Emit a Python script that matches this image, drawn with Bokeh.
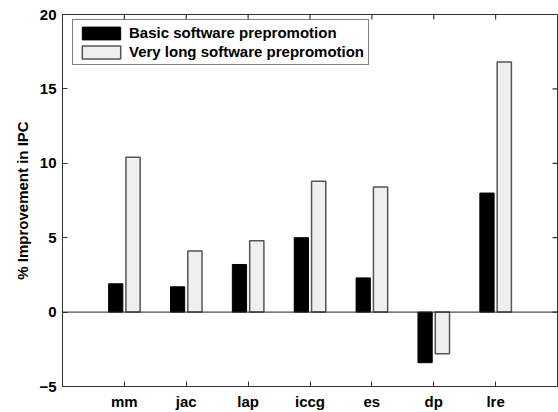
import numpy as np
from bokeh.plotting import figure
from bokeh.models import (Range1d, FixedTicker, Span, Legend, LegendItem, ColumnDataSource)
from bokeh.embed import file_html
from bokeh.resources import INLINE

categories = ["mm", "jac", "lap", "iccg", "es", "dp", "lre"]
basic = [1.9, 1.7, 3.2, 5.0, 2.3, -3.4, 8.0]
very_long = [10.4, 4.1, 4.8, 8.8, 8.4, -2.8, 16.8]
y_ticks = [-5, 0, 5, 10, 15, 20]

pos = np.arange(1, len(categories) + 1)
offset = 0.14
bw = 0.23
x_end = len(categories) + 1
y_start, y_end = y_ticks[0], y_ticks[-1]

FONT = "Liberation Sans"
AX = "#333333"

p = figure(width=558, height=412, output_backend="svg", toolbar_location=None,
           x_range=Range1d(0, x_end), y_range=Range1d(y_start, y_end),
           min_border_left=62, min_border_top=14, min_border_right=1, min_border_bottom=24)
p.background_fill_color = "white"
p.border_fill_color = "white"
p.outline_line_color = AX
p.outline_line_width = 1
p.xgrid.visible = False
p.ygrid.visible = False

src = ColumnDataSource(dict(xb=pos - offset, xv=pos + offset, basic=basic, vl=very_long))
r1 = p.vbar(x="xb", top="basic", bottom=0, width=bw, source=src,
            fill_color="black", line_color="black", line_width=1)
r2 = p.vbar(x="xv", top="vl", bottom=0, width=bw, source=src,
            fill_color="#efefef", line_color="#555555", line_width=1.5)

p.add_layout(Span(location=0, dimension="width", line_color="#222222", line_width=1))

# box ticks on top and right edges (inside)
p.scatter(x=pos, y=[y_end] * len(pos), marker="dash", angle=np.pi / 2, size=10,
          line_color=AX, line_width=1.2)
p.scatter(x=[x_end] * len(y_ticks), y=y_ticks, marker="dash", size=10,
          line_color=AX, line_width=1.2)

def style(ax):
    ax.major_tick_in = 5
    ax.major_tick_out = 0
    ax.minor_tick_line_color = None
    ax.axis_line_color = AX
    ax.major_tick_line_color = AX
    ax.major_label_text_font = FONT
    ax.major_label_text_font_style = "bold"
    ax.major_label_text_font_size = "15px"
    ax.major_label_text_color = "black"
    ax.major_label_standoff = 6

xax = p.xaxis[0]
xax.ticker = FixedTicker(ticks=list(pos))
xax.major_label_overrides = {int(i): c for i, c in zip(pos, categories)}
style(xax)
xax.major_label_standoff = 6

yax = p.yaxis[0]
yax.ticker = FixedTicker(ticks=y_ticks)
style(yax)
yax.axis_label = "% Improvement in IPC"
yax.axis_label_text_font = FONT
yax.axis_label_text_font_style = "bold"
yax.axis_label_text_font_size = "15px"
yax.axis_label_text_color = "black"
yax.axis_label_standoff = 5

legend = Legend(items=[LegendItem(label="Basic software prepromotion", renderers=[r1]),
                       LegendItem(label="Very long software prepromotion", renderers=[r2])],
                location=(10, 321))
legend.label_text_font = FONT
legend.label_text_font_style = "bold"
legend.label_text_font_size = "15px"
legend.label_text_color = "black"
legend.glyph_width = 48
legend.glyph_height = 16
legend.label_height = 16
legend.label_standoff = 4
legend.spacing = 2
legend.padding = 4
legend.margin = 0
legend.border_line_color = "black"
legend.border_line_width = 1
legend.background_fill_alpha = 1
p.add_layout(legend)

open("out.html", "w").write(file_html(p, INLINE))
